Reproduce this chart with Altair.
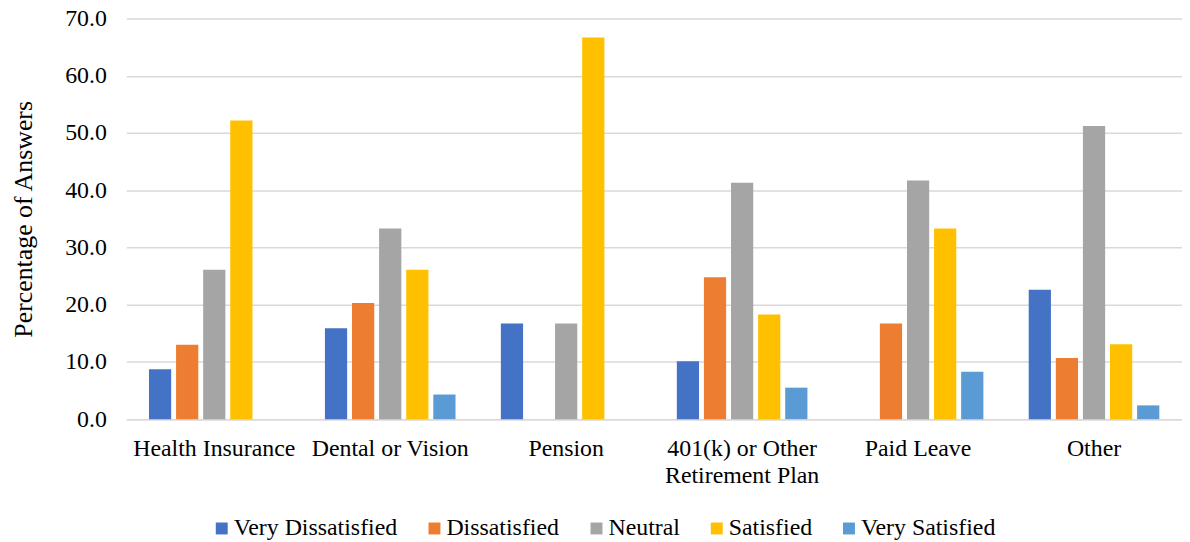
import altair as alt
import pandas as pd

categories = ["Health Insurance", "Dental or Vision", "Pension",
              "401(k) or Other Retirement Plan", "Paid Leave", "Other"]
series = ["Very Dissatisfied", "Dissatisfied", "Neutral", "Satisfied", "Very Satisfied"]
colors = ["#4472C4", "#ED7D31", "#A5A5A5", "#FFC000", "#5B9BD5"]

very_dissatisfied = [8.7, 15.9, 16.7, 10.1, 0.0, 22.6]
dissatisfied = [13.0, 20.3, 0.0, 24.8, 16.7, 10.7]
neutral = [26.1, 33.3, 16.7, 41.3, 41.7, 51.2]
satisfied = [52.2, 26.1, 66.7, 18.3, 33.3, 13.1]
very_satisfied = [0.0, 4.3, 0.0, 5.5, 8.3, 2.4]

values = [very_dissatisfied, dissatisfied, neutral, satisfied, very_satisfied]
rows = []
for s, vals in zip(series, values):
    for c, v in zip(categories, vals):
        rows.append({"Category": c, "Series": s, "Value": v})
df = pd.DataFrame(rows)

FONT = "Liberation Serif"

chart = alt.Chart(df).mark_bar().encode(
    x=alt.X("Category:N", sort=categories,
            scale=alt.Scale(paddingInner=0.23, paddingOuter=0.115),
            axis=alt.Axis(title=None, labelAngle=0, ticks=False, domain=True,
                          domainColor="#d9d9d9", domainWidth=1.5,
                          labelFont=FONT, labelFontSize=24, labelColor="#000000",
                          labelPadding=18, labelBaseline="top", labelLineHeight=27,
                          labelLimit=400,
                          labelExpr="datum.label == '401(k) or Other Retirement Plan' ? ['401(k) or Other', 'Retirement Plan'] : datum.label")),
    xOffset=alt.XOffset("Series:N", sort=series,
                        scale=alt.Scale(paddingInner=0.18, paddingOuter=0.09)),
    y=alt.Y("Value:Q", scale=alt.Scale(domain=[0, 70]),
            axis=alt.Axis(title="Percentage of Answers", format=".1f",
                          values=[0, 10, 20, 30, 40, 50, 60, 70],
                          ticks=False, domain=False,
                          grid=True, gridColor="#d9d9d9", gridWidth=1.5,
                          labelFont=FONT, labelFontSize=24, labelColor="#000000",
                          labelPadding=20,
                          titleFont=FONT, titleFontSize=26, titleFontWeight="normal",
                          titleColor="#000000", titlePadding=28)),
    color=alt.Color("Series:N", sort=series,
                    scale=alt.Scale(domain=series, range=colors),
                    legend=alt.Legend(title=None, orient="none", direction="horizontal",
                                      legendX=81, legendY=501,
                                      symbolType="square", symbolSize=144,
                                      symbolStrokeWidth=0, symbolOffset=3,
                                      labelFont=FONT, labelFontSize=24,
                                      labelColor="#000000", labelOffset=0,
                                      columnPadding=22, labelLimit=400)),
).properties(
    width=1062, height=403,
    autosize=alt.AutoSizeParams(type="none"),
    padding={"left": 119, "top": 9, "right": 0, "bottom": 120},
).configure_view(stroke=None)

chart.save("out.html", embed_options={"renderer": "svg", "actions": False})
